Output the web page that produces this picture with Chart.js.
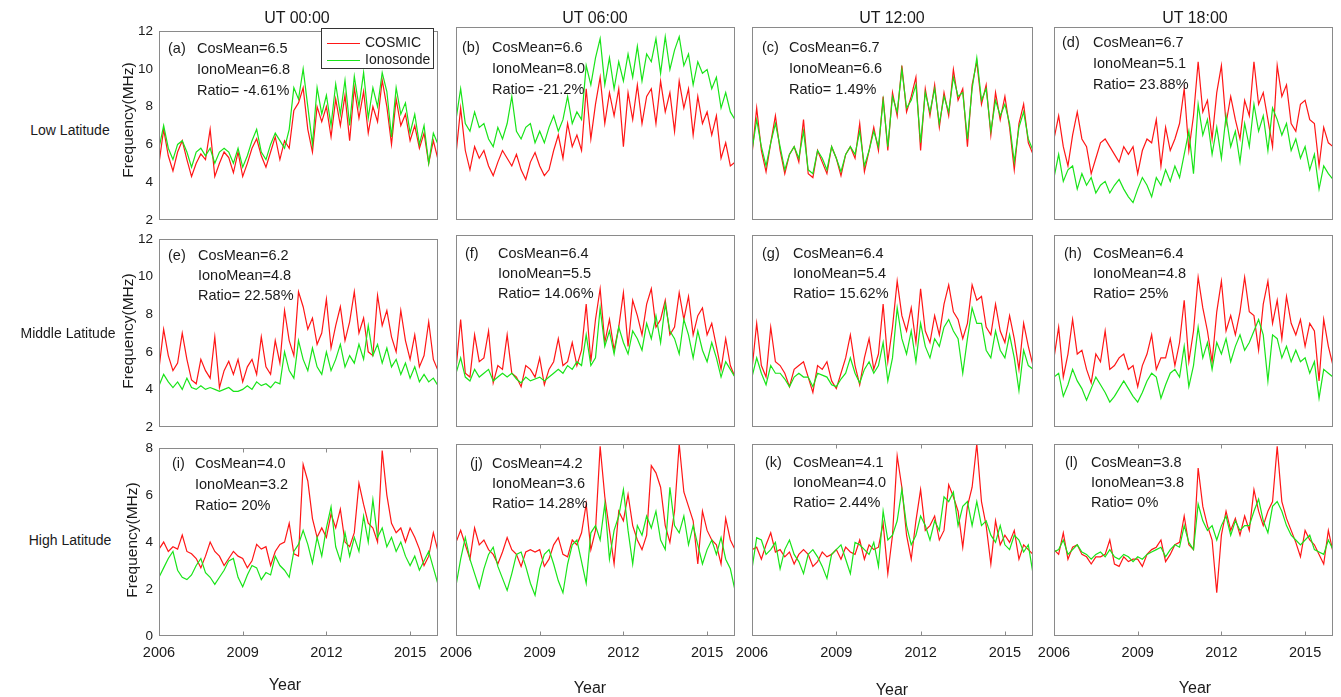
<!DOCTYPE html>
<html>
<head>
<meta charset="utf-8">
<script src="https://cdn.jsdelivr.net/npm/chart.js@4.4.1/dist/chart.umd.min.js"></script>
<style>
  body { margin: 0; background: #fff; font-family: "Liberation Sans", Arial, Helvetica, sans-serif; color: #1a1a1a; }
  #fig { position: relative; width: 1341px; height: 697px; overflow: hidden; }
  #fig canvas { position: absolute; }
  .txt { position: absolute; white-space: nowrap; line-height: 18px; height: 18px; font-size: 14.5px; }
  .title { position: absolute; white-space: nowrap; font-size: 16px; transform: translate(-50%, -50%); }
  .ylab { position: absolute; white-space: nowrap; font-size: 15.5px; transform: translate(-50%, -50%) rotate(-90deg); }
  .rowlab { position: absolute; white-space: nowrap; font-size: 14px; transform: translate(-50%, -50%); }
  #legend { position: absolute; background: #fff; border: 1px solid #333; box-sizing: border-box; }
  #legend .row { position: absolute; left: 5px; height: 16px; line-height: 16px; font-size: 14px; white-space: nowrap; }
  #legend .sw { display: inline-block; width: 33px; height: 1.5px; vertical-align: middle; margin-right: 5px; }
</style>
</head>
<body>
<div id="fig"></div>
<script>
const years = Array.from({ length: 61 }, (_, i) => 2006 + i / 6);
const yearTicks = [2006, 2009, 2012, 2015];
const utTitles = ["UT 00:00", "UT 06:00", "UT 12:00", "UT 18:00"];
const latLabels = ["Low Latitude", "Middle Latitude", "High Latitude"];
const seriesNames = ["COSMIC", "Ionosonde"];
const panelTags = ["a", "b", "c", "d", "e", "f", "g", "h", "i", "j", "k", "l"];
const cosMean = ["6.5", "6.6", "6.7", "6.7", "6.2", "6.4", "6.4", "6.4", "4.0", "4.2", "4.1", "3.8"];
const ionoMean = ["6.8", "8.0", "6.6", "5.1", "4.8", "5.5", "5.4", "4.8", "3.2", "3.6", "4.0", "3.8"];
const ratio = ["-4.61%", "-21.2%", "1.49%", "23.88%", "22.58%", "14.06%", "15.62%", "25%", "20%", "14.28%", "2.44%", "0%"];

// low latitude
const cosmicA = [5.0,6.8,5.4,4.6,5.6,6.2, 5.2,4.3,5.0,5.5,5.2,6.8, 4.3,5.0,5.6,5.3,4.5,5.6, 4.3,5.0,5.8,6.3,5.4,4.8, 5.6,6.4,5.2,6.2,5.8,7.8, 8.2,9.0,6.8,5.6,8.0,7.2, 8.0,6.4,8.4,7.0,8.6,6.2, 9.0,7.4,8.8,6.6,8.0,7.2, 9.4,8.0,6.0,8.4,7.0,7.6, 6.2,7.0,5.8,6.6,5.0,6.2, 5.2];
const ionoA   = [5.8,7.0,5.8,5.2,6.0,6.2, 5.6,4.8,5.6,5.8,5.4,5.8, 5.0,5.6,5.8,5.6,5.0,5.8, 4.8,5.4,6.2,6.8,5.6,5.2, 6.0,6.6,6.2,5.8,6.8,9.0, 8.4,10.0,8.0,6.0,9.0,7.6, 8.6,7.0,9.2,7.6,9.4,7.0, 9.6,8.0,9.8,7.4,9.0,8.0, 9.8,8.8,6.4,9.0,7.6,8.2, 6.6,7.6,6.0,7.0,5.0,6.6, 6.0];
const cosmicB = [5.4,7.8,5.6,4.6,5.8,5.2, 5.6,4.8,4.3,5.0,5.6,5.2, 4.8,5.4,4.6,4.1,5.0,5.5, 4.8,4.3,4.6,5.6,6.4,5.2, 7.0,5.8,6.4,5.6,8.8,6.2, 8.0,9.4,7.0,8.6,7.4,8.8, 5.8,8.6,7.2,9.0,7.0,8.4, 8.8,7.0,9.2,7.6,8.6,6.6, 9.2,7.8,8.8,6.4,8.4,7.0, 7.6,6.4,7.4,5.2,6.0,4.8, 5.0];
const ionoB   = [7.2,8.8,7.0,6.6,7.6,6.8, 7.0,6.2,5.8,6.8,6.2,7.0, 8.4,6.6,6.2,6.8,7.0,6.0, 6.6,6.0,6.8,7.4,6.6,7.2, 8.4,7.0,7.6,7.2,10.0,9.0, 10.4,11.4,9.0,10.4,8.8,10.2, 9.2,10.6,9.4,11.0,9.2,10.6, 10.2,11.4,9.6,11.5,9.8,10.8, 11.5,10.0,10.6,9.0,10.2,9.6, 9.8,8.8,9.4,7.8,8.6,7.6, 7.2];
const cosmicC = [5.4,7.8,5.6,4.5,6.0,7.4, 5.6,4.4,5.4,5.8,5.0,7.2, 4.4,4.2,5.6,5.0,4.4,5.8, 5.2,4.3,5.4,5.8,5.2,7.0, 4.5,5.6,6.8,5.6,8.4,5.6, 8.6,7.4,10.0,7.6,8.4,9.4, 5.6,8.8,7.4,9.0,6.8,8.6, 7.4,9.8,8.2,8.8,5.8,9.0, 10.2,8.0,9.0,6.4,8.6,7.2, 8.4,6.8,4.6,7.0,8.0,6.0, 5.4];
const ionoC   = [5.6,7.2,5.8,4.8,6.0,7.0, 5.8,4.6,5.4,5.8,5.2,6.6, 4.6,4.4,5.6,5.2,4.6,5.8, 5.2,4.5,5.4,5.8,5.4,6.6, 4.8,5.6,6.6,5.8,8.2,5.8, 8.4,7.6,9.8,7.8,8.2,9.0, 6.0,8.6,7.6,8.8,7.0,8.4, 7.6,9.4,8.4,8.6,6.2,8.8, 10.4,8.2,8.8,6.6,8.2,7.4, 8.0,7.0,5.0,6.8,7.6,6.2, 5.6];
const cosmicD = [6.2,7.4,5.8,4.8,6.4,7.6, 6.2,5.8,4.4,5.2,6.0,6.2, 5.8,5.4,5.0,5.8,5.4,5.8, 4.4,5.6,6.2,6.0,7.2,4.8, 6.8,5.6,6.2,7.0,8.8,5.6, 7.4,10.2,7.6,8.2,6.2,8.6, 10.0,7.0,8.4,7.2,6.2,8.2, 7.4,10.2,8.0,8.6,7.2,5.8, 10.0,8.4,9.0,7.0,6.6,8.0, 8.2,7.2,7.0,4.8,6.8,6.0, 5.8];
const ionoD   = [4.2,5.4,4.0,4.6,4.8,3.6, 4.4,3.8,4.2,3.4,3.8,4.0, 3.4,3.8,4.1,3.6,3.2,2.9, 3.6,4.2,3.8,3.2,4.2,3.8, 4.6,4.0,4.8,4.2,5.4,6.6, 4.4,8.0,6.4,7.2,5.4,6.8, 5.2,7.4,5.8,6.6,5.0,7.0, 5.8,8.0,6.6,7.4,5.6,7.8, 7.2,6.4,7.0,5.6,6.2,5.2, 5.8,4.6,5.4,3.6,4.8,4.4, 4.1];
// middle latitude
const cosmicE = [5.1,7.2,5.8,5.0,5.4,7.0, 5.6,4.5,4.3,5.6,5.0,4.6, 6.8,4.1,5.0,5.5,4.8,5.6, 4.4,5.2,5.6,4.8,6.8,5.2, 4.8,6.6,5.4,8.2,6.6,5.8, 9.2,8.4,7.2,7.8,6.4,7.0, 8.8,6.2,7.4,8.4,6.6,7.6, 9.2,7.0,7.8,6.0,5.8,9.0, 7.4,8.2,6.8,6.0,8.2,6.6, 5.6,6.9,5.2,5.8,7.6,5.6, 5.0];
const ionoE   = [4.2,4.8,4.4,4.1,4.4,4.0, 4.6,4.1,4.0,4.2,4.0,4.1, 4.0,3.9,4.0,4.1,3.9,3.9, 4.0,4.2,4.0,4.4,4.2,4.3, 4.1,4.4,4.3,6.0,5.0,4.6, 6.6,5.6,5.0,6.2,5.2,4.8, 6.0,5.0,5.6,6.4,5.2,5.8, 5.4,6.4,5.6,7.4,5.8,6.4, 5.4,6.2,5.2,5.6,4.8,5.4, 4.6,5.2,4.4,4.8,4.4,4.6, 4.2];
const cosmicF = [5.0,7.6,4.8,4.6,6.8,5.4, 5.6,7.0,4.3,5.2,5.0,6.8, 4.8,4.6,4.1,5.2,5.0,4.6, 5.6,4.2,5.0,5.4,6.6,5.2, 5.4,6.4,5.2,6.0,8.4,5.4, 7.6,9.2,6.4,7.6,6.0,7.2, 9.0,6.2,8.6,7.8,6.8,8.4, 9.2,7.2,7.6,8.6,6.8,7.2, 9.0,7.6,8.8,6.8,7.8,8.2, 6.8,7.4,6.2,5.0,6.6,5.2, 4.6];
const ionoF   = [4.8,5.6,4.6,4.4,5.0,4.6, 4.8,5.0,4.4,4.6,4.8,4.6, 4.8,4.5,4.3,4.6,4.4,4.5, 4.6,4.4,4.6,4.8,5.0,4.8, 5.2,5.0,5.4,5.2,6.8,5.2, 5.6,8.2,6.2,7.0,5.8,7.2, 6.4,5.8,7.0,6.6,6.0,7.4, 6.6,7.8,6.4,8.4,7.0,6.6, 5.8,7.6,6.8,5.6,7.0,6.0, 5.4,6.4,5.6,4.6,5.4,5.0, 4.6];
const cosmicG = [5.0,7.4,5.2,4.6,7.2,5.4, 5.2,4.8,4.1,5.0,5.2,5.4, 4.6,3.8,5.2,5.0,5.4,4.4, 4.0,4.8,5.6,6.8,5.2,4.2, 5.6,6.6,5.0,5.8,8.4,5.4, 7.2,9.6,7.8,7.0,8.2,6.4, 9.2,7.0,6.4,7.8,6.8,8.4, 9.4,8.0,7.6,6.6,7.4,9.4, 8.6,8.8,7.2,6.8,8.4,7.0, 6.4,7.8,6.6,5.0,7.4,6.2, 5.2];
const ionoG   = [4.6,5.6,4.8,4.2,5.2,4.8, 4.8,4.5,4.1,4.6,4.8,4.6, 4.6,4.1,4.8,4.7,4.6,4.2, 4.1,4.5,4.8,5.6,4.8,4.3, 5.0,5.4,4.8,5.2,6.4,4.4, 5.6,8.2,6.6,5.8,7.0,5.4, 7.4,6.2,5.6,6.6,6.2,7.2, 7.6,7.0,6.6,4.8,6.6,8.2, 7.4,7.4,6.0,5.6,7.0,6.0, 5.6,6.8,5.6,3.9,6.0,5.2, 5.0];
const cosmicH = [5.6,7.2,4.6,5.8,7.6,5.8, 6.0,5.0,4.3,5.8,5.4,7.0, 5.0,5.2,5.6,5.8,5.0,5.2, 4.1,5.2,5.8,6.8,5.0,5.6, 5.6,6.6,5.2,6.4,8.6,5.4, 7.0,9.8,8.2,7.0,5.4,8.0, 9.6,7.0,7.8,6.8,8.0,9.8, 8.0,7.8,6.0,8.4,9.6,7.4, 8.6,6.6,8.8,7.4,6.8,7.6, 6.2,7.4,7.0,4.4,7.6,6.2, 5.2];
const ionoH   = [4.6,4.8,3.6,4.2,5.0,4.4, 4.0,3.4,4.0,4.6,4.2,3.8, 3.3,3.6,4.0,4.4,4.0,3.6, 3.3,3.8,4.4,4.8,4.6,3.5, 4.2,4.8,5.0,4.6,6.2,4.1, 5.2,7.2,5.6,6.4,5.0,6.4, 5.8,6.6,5.4,6.2,6.8,6.0, 6.4,7.0,7.6,6.8,4.4,6.8, 6.6,5.6,6.2,5.4,6.0,5.4, 5.6,4.8,5.4,3.5,5.0,4.8, 4.6];
// high latitude
const cosmicI = [3.7,4.0,3.6,3.8,3.7,4.3, 3.6,3.5,3.3,2.9,3.4,4.0, 3.6,3.4,3.0,3.3,3.6,3.4, 3.3,2.9,3.2,3.9,3.7,3.8, 3.0,3.6,3.9,4.0,4.8,3.5, 3.4,7.3,6.6,5.0,4.2,4.6, 4.2,5.2,4.6,5.4,4.0,3.8, 4.4,6.5,5.6,4.8,4.6,4.0, 7.9,6.0,4.8,4.4,4.6,4.0, 4.6,4.2,3.7,3.0,3.4,4.4, 3.6];
const ionoI   = [2.5,2.9,3.3,3.6,2.8,2.5, 2.4,2.6,3.0,3.3,2.7,2.5, 2.2,2.5,2.8,3.2,3.3,2.5, 2.1,2.6,3.0,2.9,2.4,2.7, 2.6,3.4,3.0,2.8,2.5,3.6, 3.9,4.5,3.9,3.1,4.2,3.4, 4.6,5.5,3.8,3.2,4.4,3.4, 4.2,3.6,5.1,4.0,5.8,4.2, 4.6,3.8,4.2,3.6,4.0,3.4, 3.0,3.4,2.8,3.2,3.6,2.9, 2.2];
const cosmicJ = [3.9,4.4,3.8,3.2,4.5,3.8, 4.0,3.6,3.4,3.0,3.5,4.1, 3.6,3.4,2.9,3.5,3.6,3.5, 3.6,2.9,3.2,3.8,4.1,3.4, 3.3,4.0,3.8,4.3,5.5,3.6, 4.4,7.9,5.8,4.4,3.0,5.2, 4.8,5.9,4.6,4.0,3.6,4.2, 7.1,6.8,6.2,4.6,3.9,5.2, 8.0,6.0,5.4,4.8,3.0,5.2, 4.4,4.0,3.8,3.0,4.9,4.0, 3.6];
const ionoJ   = [2.1,3.2,4.1,3.2,2.6,2.0, 2.8,3.4,3.7,2.9,2.4,1.9, 2.6,3.4,3.5,2.9,2.2,1.7, 2.8,3.4,3.6,3.0,2.3,1.8, 3.0,3.8,4.0,3.1,2.2,4.3, 4.6,4.0,5.5,3.2,4.4,5.0, 6.1,4.4,3.0,4.6,4.2,5.0, 4.5,5.2,4.0,3.6,6.2,4.6, 4.3,5.0,3.8,4.6,3.8,3.0, 3.6,4.0,3.4,4.1,3.2,2.8, 1.9];
const cosmicK = [3.6,3.7,3.2,3.8,4.3,3.5, 3.6,3.3,3.5,3.0,3.4,3.6, 3.4,2.9,3.1,3.5,3.3,3.4, 3.6,3.2,3.7,3.5,3.4,4.0, 3.2,3.8,3.6,3.7,4.7,2.6, 4.2,7.5,6.2,4.2,3.2,4.8, 6.1,4.4,4.6,5.0,4.0,4.4, 6.3,5.8,5.2,3.7,5.4,6.2, 8.0,5.6,4.6,3.0,4.8,3.8, 4.2,3.9,4.4,3.2,3.8,3.6, 3.4];
const ionoK   = [2.8,4.1,4.0,3.4,3.6,3.9, 2.8,3.6,4.0,3.4,3.1,2.6, 3.4,3.6,3.3,2.9,2.4,3.4, 3.6,3.8,3.2,2.6,3.9,3.8, 3.6,3.4,3.9,2.9,5.2,4.0, 4.2,4.8,6.1,4.6,3.8,4.2, 5.0,4.6,4.0,4.8,4.4,5.8, 5.6,6.0,4.6,5.4,5.6,4.6, 5.6,4.6,4.8,4.2,3.9,4.6, 3.8,3.6,4.2,4.0,3.5,3.8, 2.6];
const cosmicL = [3.6,3.4,4.3,3.2,3.7,3.8, 3.4,3.3,3.0,3.3,3.3,3.4, 4.0,3.0,2.9,3.3,3.1,3.2, 3.2,2.9,3.4,3.6,3.7,4.0, 3.1,3.4,3.8,3.9,5.0,3.8, 3.6,7.0,5.4,4.6,4.0,1.8, 4.2,5.2,4.4,4.9,4.2,5.0, 4.4,6.1,5.2,4.6,5.2,5.6, 7.9,5.6,4.9,4.4,3.9,3.3, 4.4,4.0,3.8,3.4,3.0,4.4, 3.5];
const ionoL   = [3.5,3.6,4.0,3.4,3.6,3.8, 3.5,3.4,3.2,3.4,3.5,3.3, 3.6,3.3,3.2,3.4,3.3,3.1, 3.3,3.2,3.4,3.5,3.6,3.7, 3.3,3.6,3.8,3.7,4.6,3.9, 3.6,5.5,4.8,4.4,4.6,4.0, 4.6,5.0,4.2,4.8,4.4,4.6, 4.6,5.2,5.7,4.8,4.3,5.4, 5.6,5.2,4.6,4.2,4.0,3.8, 4.0,4.2,3.6,3.5,3.4,4.0, 3.6];

const cosmicSeries = [cosmicA, cosmicB, cosmicC, cosmicD, cosmicE, cosmicF, cosmicG, cosmicH, cosmicI, cosmicJ, cosmicK, cosmicL];
const ionoSeries = [ionoA, ionoB, ionoC, ionoD, ionoE, ionoF, ionoG, ionoH, ionoI, ionoJ, ionoK, ionoL];

// ---- layout ----
const FONT = '"Liberation Sans", Arial, Helvetica, sans-serif';
const RED = "rgb(255,22,22)";
const GREEN = "rgb(25,228,25)";
const cols = [{ x: 159, w: 279 }, { x: 456, w: 279 }, { x: 752, w: 281 }, { x: 1054, w: 279 }];
const rows = [{ y: 27, h: 193, min: 2, max: 12 }, { y: 235, h: 192, min: 2, max: 12 }, { y: 444, h: 192, min: 0, max: 8 }];
// text offsets inside each panel: [tag dx, text dx, first line dy, line step]
const textSpots = [
  [9, 38, 21, 21], [6, 36, 20, 21], [10, 37, 20, 21], [8, 39, 15, 21],
  [9, 39, 20, 20], [9, 42, 18, 20], [10, 41, 18, 20], [10, 39, 18, 20],
  [13, 36, 19, 21], [14, 36, 19, 20], [13, 41, 18, 20], [11, 37, 18, 20]
];
const titleSpots = [[297, 18], [595, 18], [892, 18], [1195, 18]];
const rowLabelSpots = [[70, 130], [68, 333], [70, 540]];
const yTitleSpots = [[128, 120], [128, 331], [132, 540]];
const yearSpots = [[285, 685], [590, 688], [892, 690], [1195, 688]];

const fig = document.getElementById("fig");

const framePlugin = {
  id: "frame",
  afterDraw(chart, args, opts) {
    const { ctx, chartArea: a, scales } = chart;
    const l = Math.round(a.left) + 0.5, t = Math.round(a.top) + 0.5;
    const r = Math.round(a.right) - 0.5, b = Math.round(a.bottom) - 0.5;
    ctx.save();
    ctx.strokeStyle = "#8a8a8a";
    ctx.lineWidth = 1;
    ctx.strokeRect(l, t, r - l, b - t);
    if (opts.xTicks) {
      ctx.beginPath();
      scales.x.ticks.forEach(tk => {
        if (tk.value <= 2006 || tk.value >= 2016) return;
        const x = Math.round(scales.x.getPixelForValue(tk.value)) + 0.5;
        ctx.moveTo(x, b); ctx.lineTo(x, b - 4);
        ctx.moveTo(x, t); ctx.lineTo(x, t + 4);
      });
      ctx.stroke();
    }
    ctx.restore();
  }
};

function addText(cls, text, left, top, extra) {
  const d = document.createElement("div");
  d.className = cls;
  d.textContent = text;
  d.style.left = left + "px";
  d.style.top = top + "px";
  if (extra) Object.assign(d.style, extra);
  fig.appendChild(d);
  return d;
}

function makePanel(k) {
  const r = Math.floor(k / 4), c = k % 4;
  const col = cols[c], row = rows[r];
  const cv = document.createElement("canvas");
  cv.width = col.w + 55;
  cv.height = row.h + 45;
  cv.style.left = (col.x - 45) + "px";
  cv.style.top = (row.y - 10) + "px";
  fig.appendChild(cv);

  const pts = arr => arr.map((v, i) => ({ x: years[i], y: v }));

  new Chart(cv, {
    type: "line",
    data: {
      datasets: [
        { label: seriesNames[0], data: pts(cosmicSeries[k]), borderColor: RED, order: 1 },
        { label: seriesNames[1], data: pts(ionoSeries[k]), borderColor: GREEN, order: 0 }
      ]
    },
    options: {
      responsive: false,
      animation: false,
      events: [],
      layout: { padding: { top: 10, right: 10, left: 0, bottom: 0 } },
      elements: { point: { radius: 0 }, line: { borderWidth: 1.2, tension: 0 } },
      plugins: { legend: { display: false }, tooltip: { enabled: false }, frame: { xTicks: r === 2 } },
      scales: {
        x: {
          type: "linear", min: 2006, max: 2016,
          afterBuildTicks: s => { s.ticks = yearTicks.map(v => ({ value: v })); },
          afterFit: s => { s.height = 35; },
          grid: { display: false, drawTicks: false },
          border: { display: false },
          ticks: {
            display: r === 2, padding: 8, autoSkip: false, maxRotation: 0,
            color: "#1a1a1a", font: { family: FONT, size: 14.5 },
            callback: v => String(v)
          }
        },
        y: {
          min: row.min, max: row.max,
          afterFit: s => { s.width = 45; },
          grid: { display: false, drawTicks: false },
          border: { display: false },
          ticks: {
            display: c === 0, stepSize: 2, padding: 6,
            color: "#1a1a1a", font: { family: FONT, size: 13.5 }
          }
        }
      }
    },
    plugins: [framePlugin]
  });

  const [tdx, xdx, dy, step] = textSpots[k];
  const lines = ["CosMean=" + cosMean[k], "IonoMean=" + ionoMean[k], "Ratio= " + ratio[k]];
  addText("txt", "(" + panelTags[k] + ")", col.x + tdx, row.y + dy - 9);
  lines.forEach((s, i) => addText("txt", s, col.x + xdx, row.y + dy - 9 + i * step));
}

for (let k = 0; k < 12; k++) makePanel(k);

utTitles.forEach((s, i) => addText("title", s, titleSpots[i][0], titleSpots[i][1]));
latLabels.forEach((s, i) => addText("rowlab", s, rowLabelSpots[i][0], rowLabelSpots[i][1]));
yTitleSpots.forEach(p => addText("ylab", "Frequency(MHz)", p[0], p[1]));
yearSpots.forEach(p => addText("title", "Year", p[0], p[1]));

// legend box in panel (a)
const lg = document.createElement("div");
lg.id = "legend";
Object.assign(lg.style, { left: "321px", top: "28px", width: "113px", height: "41px" });
[RED, GREEN].forEach((colr, i) => {
  const rowDiv = document.createElement("div");
  rowDiv.className = "row";
  rowDiv.style.top = (5 + i * 17) + "px";
  const sw = document.createElement("span");
  sw.className = "sw";
  sw.style.background = colr;
  const label = document.createElement("span");
  label.textContent = seriesNames[i];
  rowDiv.appendChild(sw);
  rowDiv.appendChild(label);
  lg.appendChild(rowDiv);
});
fig.appendChild(lg);
</script>
</body>
</html>
